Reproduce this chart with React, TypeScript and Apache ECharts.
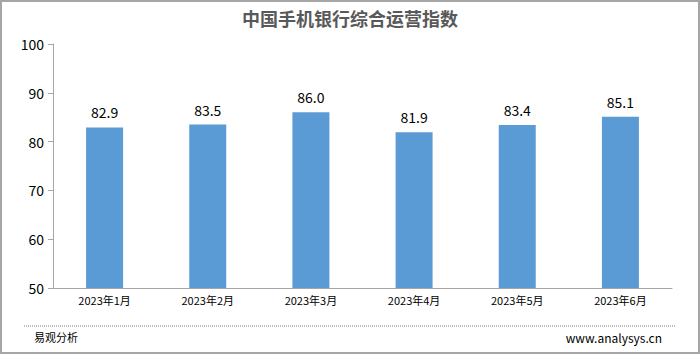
import React, { useEffect, useRef } from "react";
import * as echarts from "echarts";

const categories = ["2023年1月", "2023年2月", "2023年3月", "2023年4月", "2023年5月", "2023年6月"];
const values = [82.9, 83.5, 86.0, 81.9, 83.4, 85.1];
const titleText = "中国手机银行综合运营指数";
const sourceLeft = "易观分析";
const sourceRight = "www.analysys.cn";

export default function App() {
  const ref = useRef<HTMLDivElement>(null);
  useEffect(() => {
    if (!ref.current) return;
    const chart = echarts.init(ref.current, undefined, { renderer: "svg" });
    const font = "'Noto Sans CJK SC', 'Noto Sans', sans-serif";
    chart.setOption({
      animation: false,
      backgroundColor: "#ffffff",
      title: {
        text: titleText,
        left: "center",
        top: 2,
        textStyle: { fontSize: 18, fontWeight: "bold", color: "#595959", fontFamily: font },
      },
      grid: { left: 51, right: 26, top: 42, bottom: 64 },
      xAxis: {
        type: "category",
        data: categories,
        axisLine: { lineStyle: { color: "#a6a6a6", width: 1 } },
        axisTick: { show: false },
        axisLabel: { color: "#000", fontSize: 11, fontFamily: font, margin: 6 },
      },
      yAxis: {
        type: "value",
        min: 50,
        max: 100,
        interval: 10,
        axisLine: { show: true, lineStyle: { color: "#a6a6a6" } },
        axisTick: { show: true, length: 5, lineStyle: { color: "#a6a6a6" } },
        splitLine: { show: false },
        axisLabel: { color: "#000", fontSize: 14, fontFamily: font, margin: 9 },
      },
      series: [
        {
          type: "bar",
          data: values,
          barWidth: 37,
          itemStyle: { color: "#5b9bd5" },
          label: {
            show: true,
            position: "top",
            distance: 8,
            color: "#000",
            fontSize: 14,
            fontFamily: font,
            formatter: (p: any) => Number(p.value).toFixed(1),
          },
        },
      ],
      graphic: [
        {
          type: "line",
          shape: { x1: 22, y1: 324, x2: 673, y2: 324 },
          style: { stroke: "#7f7f7f", lineWidth: 1, lineDash: [1, 1] },
        },
        {
          type: "text",
          left: 32,
          top: 329,
          style: { text: sourceLeft, fontSize: 11, fill: "#000", fontFamily: font },
        },
        {
          type: "text",
          right: 36,
          top: 329,
          style: { text: sourceRight, fontSize: 12, fill: "#000", fontFamily: font },
        },
      ],
    });
    return () => chart.dispose();
  }, []);
  return (
    <div
      style={{
        position: "fixed",
        left: 0,
        top: 0,
        width: 700,
        height: 354,
        boxSizing: "border-box",
        border: "2px solid #a6a6a6",
        background: "#fff",
      }}
    >
      <div ref={ref} style={{ width: 696, height: 350 }} />
    </div>
  );
}
